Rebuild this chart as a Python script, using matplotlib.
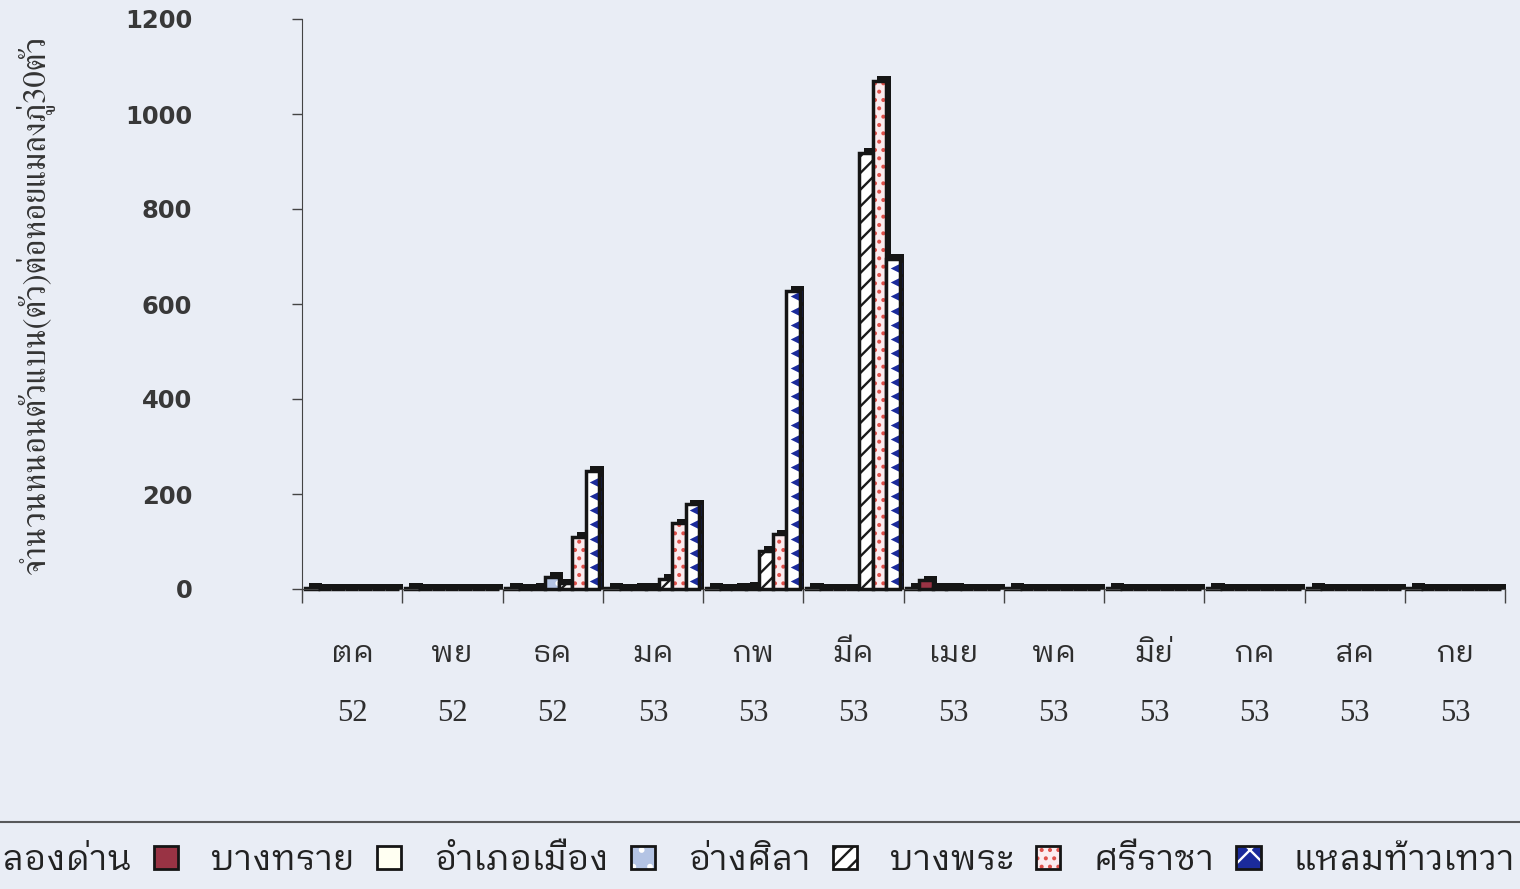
import numpy as np
import matplotlib
matplotlib.use("Agg")
from matplotlib import pyplot as plt
from matplotlib.patches import Patch

# ---- data ----
months = ["ตค", "พย", "ธค", "มค", "กพ", "มีค", "เมย", "พค", "มิย่", "กค", "สค", "กย"]
years = ["52", "52", "52", "53", "53", "53", "53", "53", "53", "53", "53", "53"]

series_names = ["คลองด่าน", "บางทราย", "อำเภอเมือง", "อ่างศิลา", "บางพระ", "ศรีราชา", "แหลมท้าวเทวา"]
khlong_dan = [2, 2, 2, 2, 2, 2, 2, 2, 2, 2, 2, 2]
bang_sai = [1, 1, 1, 1, 1, 1, 18, 1, 1, 1, 1, 1]
amphoe_mueang = [1, 1, 2, 2, 2, 1, 3, 1, 1, 1, 1, 1]
ang_sila = [1, 1, 25, 2, 4, 1, 3, 1, 1, 1, 1, 1]
bang_phra = [0, 0, 12, 22, 80, 918, 1, 0, 0, 0, 0, 0]
si_racha = [0, 0, 110, 138, 115, 1070, 0, 0, 0, 0, 0, 0]
laem_thao_thewa = [0, 0, 248, 178, 628, 695, 0, 0, 0, 0, 0, 0]

ylabel = "จำนวนหนอนตัวแบน(ตัว)ต่อหอยแมลงภู่30ตัว"

all_series = [khlong_dan, bang_sai, amphoe_mueang, ang_sila, bang_phra, si_racha, laem_thao_thewa]

# face colour, hatch, hatch colour
styles = [
    ("#9999ff", None, None),
    ("#993344", None, None),
    ("#fffff2", None, None),
    ("#b4c4e4", ".", "#ffffff"),
    ("#ffffff", "//", "#1a1a1a"),
    ("#fcecef", "..", "#e0504a"),
    ("#ffffff", None, None),
]

bg = "#e9edf5"
thai = "IBM Plex Sans Thai Looped"
plt.rcParams["hatch.linewidth"] = 1.7

fig = plt.figure(figsize=(15.2, 8.89), dpi=100, facecolor=bg)
ax = fig.add_axes([302 / 1520, 1 - 589 / 889, (1505 - 302) / 1520, (589 - 19) / 889])
ax.set_facecolor(bg)

x = np.arange(len(months))
w = 0.134
off = 0.025
dx = 0.045
dy = 10

for i, vals in enumerate(all_series):
    vals = np.array(vals, dtype=float)
    face, hatch, hcol = styles[i]
    left = x - 0.5 + off + i * w
    z = 2 + i
    # 3d side / top shadow
    ax.bar(left + dx, vals + dy, width=w, align="edge", color="#151515",
           linewidth=0, zorder=z, clip_on=False)
    if hatch:
        ax.bar(left, vals, width=w, align="edge", color=face, edgecolor=hcol,
               hatch=hatch, linewidth=0, zorder=z + 0.1, clip_on=False)
    else:
        ax.bar(left, vals, width=w, align="edge", color=face, linewidth=0,
               zorder=z + 0.1, clip_on=False)
    ax.bar(left, vals, width=w, align="edge", fill=False, edgecolor="#151515",
           linewidth=2.5, zorder=z + 0.3, clip_on=False)
    if i == 6:
        # blue triangle pattern of the last series
        for lx, h in zip(left, vals):
            if h > 20:
                ys = np.arange(16, h - 8, 30)
                ax.scatter(np.full(len(ys), lx + w * 0.7), ys, marker="<", s=70,
                           color="#1b2b9b", linewidths=0, zorder=z + 0.2)

ax.set_xlim(-0.5, len(months) - 0.5)
ax.set_ylim(0, 1200)

for s in ["top", "right"]:
    ax.spines[s].set_visible(False)
ax.spines["left"].set_color("#444444")
ax.spines["bottom"].set_color("#444444")

ax.set_yticks(np.arange(0, 1201, 200))
ax.tick_params(axis="y", direction="out", length=7, width=1, color="#444444",
               pad=72, labelsize=17.5, labelcolor="#383838")
for t in ax.get_yticklabels():
    t.set_fontweight("bold")

ax.set_xticks(np.arange(-0.5, len(months), 1.0))
ax.set_xticklabels([])
ax.set_xticks(x, minor=True)
ax.set_xticklabels([m + "\n" + y for m, y in zip(months, years)], minor=True)
ax.tick_params(axis="x", which="major", direction="out", length=10, width=1, color="#444444")
ax.tick_params(axis="x", which="minor", length=0, pad=36.5, labelsize=22, labelcolor="#2e2e2e")
for t in ax.get_xticklabels(minor=True):
    t.set_fontfamily(["Liberation Serif", thai])
    t.set_linespacing(2.37)

fig.text(35 / 1520, 1 - 305 / 889, ylabel, rotation=90, ha="center", va="center",
         fontsize=23.5, family="FreeSerif", color="#333333")

handles = []
for face, hatch, hcol in styles[:6]:
    if hatch:
        handles.append((Patch(facecolor=face, edgecolor=hcol, hatch=hatch, linewidth=0),
                        Patch(fill=False, edgecolor="#151515", linewidth=2)))
    else:
        handles.append(Patch(facecolor=face, edgecolor="#151515", linewidth=2))
handles.append((Patch(facecolor="#1b2b9b", edgecolor="#ffffff", hatch="x", linewidth=0),
                Patch(fill=False, edgecolor="#151515", linewidth=2)))

leg = fig.legend(handles, series_names, loc="upper right",
                 bbox_to_anchor=(1536 / 1520, 1 - 822 / 889), ncol=7,
                 frameon=True, fancybox=False, edgecolor="#333333", facecolor="none",
                 prop={"family": thai, "size": 25}, handlelength=0.7, handleheight=0.63,
                 handletextpad=0.95, columnspacing=0.63, borderpad=0.6, borderaxespad=0)
leg.get_frame().set_linewidth(1.5)
for t in leg.get_texts():
    t.set_color("#222222")

fig.savefig("out.png", dpi=100, facecolor=bg)
